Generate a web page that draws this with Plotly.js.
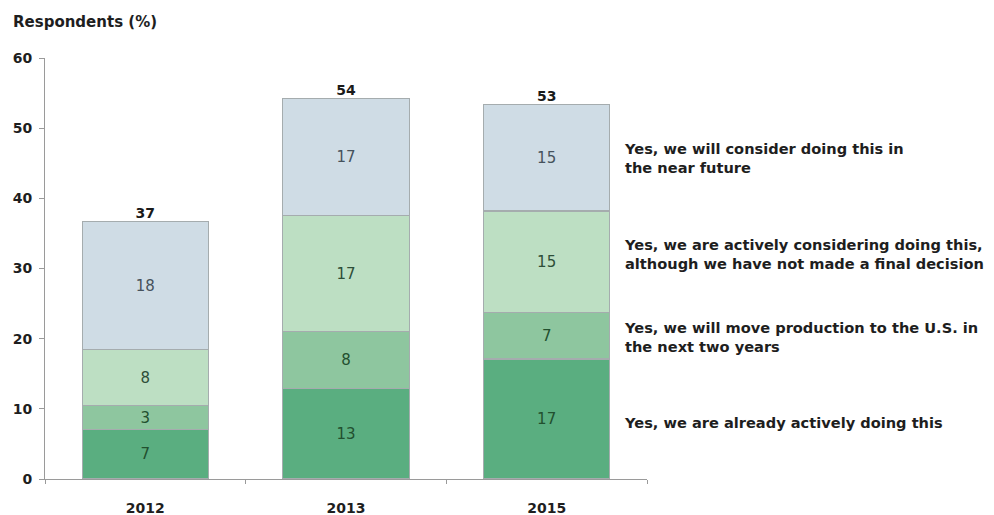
<!DOCTYPE html>
<html>
<head>
<meta charset="utf-8">
<script src="https://cdn.plot.ly/plotly-3.0.1.min.js"></script>
<style>html,body{margin:0;padding:0;background:#fff;}#chart{width:994px;height:515px;}</style>
</head>
<body>
<div id="chart"></div>
<script>
// Categories
const years = ['2012', '2013', '2015'];

// Segment heights as drawn
const alreadyDoing = [7.0, 12.9, 17.1];
const moveProduction = [3.45, 8.1, 6.6];
const activelyConsidering = [7.95, 16.5, 14.5];
const willConsider = [18.3, 16.7, 15.2];

// Printed labels
const alreadyDoingLabels = ['7', '13', '17'];
const moveProductionLabels = ['3', '8', '7'];
const activelyConsideringLabels = ['8', '17', '15'];
const willConsiderLabels = ['18', '17', '15'];
const totalLabels = ['37', '54', '53'];

// Series names (shown at right)
const seriesNames = [
  'Yes, we are already actively doing this',
  'Yes, we will move production to the U.S. in<br>the next two years',
  'Yes, we are actively considering doing this,<br>although we have not made a final decision',
  'Yes, we will consider doing this in<br>the near future'
];
const yTicks = [0, 10, 20, 30, 40, 50, 60];

const colors = ['#5aae80', '#8ec69f', '#bddfc3', '#cfdce5'];
const textColors = ['#22502f', '#22502f', '#2e4e38', '#46525c'];
const FONT = 'DejaVu Sans, Verdana, sans-serif';

const series = [alreadyDoing, moveProduction, activelyConsidering, willConsider];
const labels = [alreadyDoingLabels, moveProductionLabels, activelyConsideringLabels, willConsiderLabels];

const traces = series.map((vals, i) => ({
  type: 'bar',
  x: years,
  y: vals,
  name: seriesNames[i],
  text: labels[i],
  textposition: 'inside',
  insidetextanchor: 'middle',
  textangle: 0,
  textfont: {family: FONT, size: 15, color: textColors[i]},
  marker: {color: colors[i], line: {color: '#a5acae', width: 1.2}},
  width: 0.63,
  hoverinfo: 'none'
}));

const totals = years.map((_, j) => series.reduce((s, arr) => s + arr[j], 0));
traces.push({
  type: 'scatter',
  mode: 'text',
  x: years,
  y: totals,
  text: totalLabels,
  textposition: 'top center',
  textfont: {family: FONT, size: 14, color: '#1a1a1a', weight: 'bold'},
  cliponaxis: false,
  hoverinfo: 'none',
  showlegend: false
});

// Right-side series labels
const labelY = [8.1, 20.3, 32.1, 45.8];
const annotations = seriesNames.map((t, i) => ({
  xref: 'paper', yref: 'y',
  x: 0.958, y: labelY[i],
  xanchor: 'left', yanchor: 'middle', align: 'left',
  text: '<b>' + t + '</b>',
  showarrow: false,
  font: {family: FONT, size: 14.6, color: '#1e1e1e'}
}));
annotations.push({
  xref: 'paper', yref: 'paper',
  x: -0.056, y: 1.06,
  xanchor: 'left', yanchor: 'bottom', align: 'left',
  text: '<b>Respondents (%)</b>',
  showarrow: false,
  font: {family: FONT, size: 15, color: '#1e1e1e'}
});

const layout = {
  width: 994, height: 515,
  margin: {l: 45, r: 347, t: 58, b: 36},
  barmode: 'stack',
  showlegend: false,
  paper_bgcolor: '#ffffff',
  plot_bgcolor: '#ffffff',
  xaxis: {
    type: 'category',
    range: [-0.5, 2.5],
    showline: true, linecolor: '#9a9a9a', linewidth: 1,
    ticks: 'outside', tickson: 'boundaries', ticklen: 4, tickcolor: '#9a9a9a',
    showgrid: false, zeroline: false,
    tickfont: {family: FONT, size: 14, color: '#1e1e1e', weight: 'bold'},
    ticklabelstandoff: 16
  },
  yaxis: {
    range: [0, 60],
    tickvals: yTicks,
    showline: true, linecolor: '#9a9a9a', linewidth: 1,
    ticks: 'outside', ticklen: 5, tickcolor: '#9a9a9a',
    showgrid: false, zeroline: false,
    tickfont: {family: FONT, size: 14, color: '#1e1e1e', weight: 'bold'},
    ticklabelstandoff: 4
  },
  annotations: annotations
};

Plotly.newPlot('chart', traces, layout, {displayModeBar: false, staticPlot: true});
</script>
</body>
</html>
